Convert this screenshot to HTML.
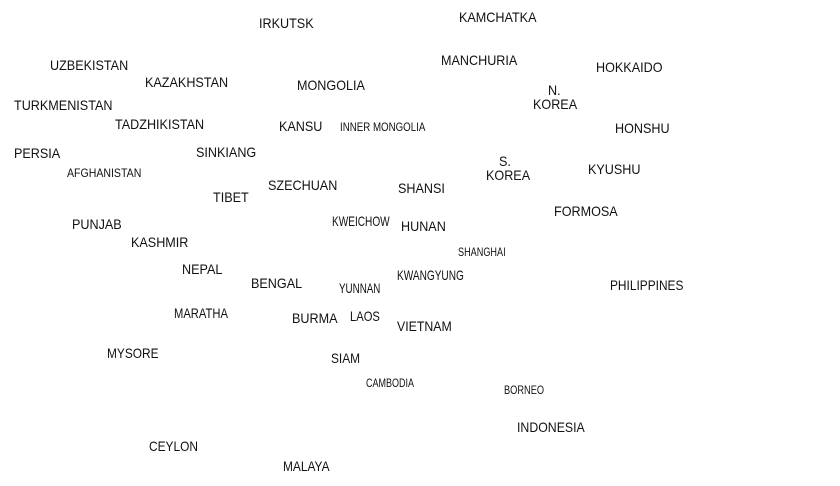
<!DOCTYPE html>
<html><head><meta charset="utf-8"><style>
html,body{margin:0;padding:0;background:#fff;width:840px;height:486px;overflow:hidden}
.t{position:absolute;font-family:"Liberation Sans Narrow","Liberation Sans",sans-serif;font-size:14px;color:#111;white-space:nowrap;line-height:1;transform-origin:0 50%;transform:translateY(-50%) scaleX(0.9)}
.s{font-size:12px}
</style></head><body>
<div class="t" style="left:259px;top:23px">IRKUTSK</div>
<div class="t" style="left:459px;top:17px">KAMCHATKA</div>
<div class="t" style="left:50px;top:65px">UZBEKISTAN</div>
<div class="t" style="left:441px;top:60px">MANCHURIA</div>
<div class="t" style="left:596px;top:67px">HOKKAIDO</div>
<div class="t" style="left:145px;top:82px">KAZAKHSTAN</div>
<div class="t" style="left:297px;top:85px">MONGOLIA</div>
<div class="t" style="left:548px;top:90px">N.</div>
<div class="t" style="left:533px;top:104px">KOREA</div>
<div class="t" style="left:14px;top:105px">TURKMENISTAN</div>
<div class="t" style="left:115px;top:124px">TADZHIKISTAN</div>
<div class="t" style="left:279px;top:126px">KANSU</div>
<div class="t s" style="left:340px;top:127px;transform:translateY(-50%) scaleX(0.81)">INNER MONGOLIA</div>
<div class="t" style="left:615px;top:128px">HONSHU</div>
<div class="t" style="left:14px;top:153px">PERSIA</div>
<div class="t" style="left:196px;top:152px">SINKIANG</div>
<div class="t" style="left:499px;top:161px">S.</div>
<div class="t" style="left:486px;top:175px">KOREA</div>
<div class="t" style="left:588px;top:169px">KYUSHU</div>
<div class="t s" style="left:67px;top:173px;transform:translateY(-50%) scaleX(0.88)">AFGHANISTAN</div>
<div class="t" style="left:268px;top:185px">SZECHUAN</div>
<div class="t" style="left:398px;top:188px">SHANSI</div>
<div class="t" style="left:213px;top:197px">TIBET</div>
<div class="t" style="left:554px;top:211px">FORMOSA</div>
<div class="t" style="left:332px;top:221px;transform:translateY(-50%) scaleX(0.72)">KWEICHOW</div>
<div class="t" style="left:401px;top:226px">HUNAN</div>
<div class="t" style="left:72px;top:224px">PUNJAB</div>
<div class="t" style="left:131px;top:242px">KASHMIR</div>
<div class="t s" style="left:458px;top:252px;transform:translateY(-50%) scaleX(0.76)">SHANGHAI</div>
<div class="t" style="left:182px;top:269px">NEPAL</div>
<div class="t" style="left:397px;top:275px;transform:translateY(-50%) scaleX(0.72)">KWANGYUNG</div>
<div class="t" style="left:251px;top:283px">BENGAL</div>
<div class="t" style="left:339px;top:288px;transform:translateY(-50%) scaleX(0.7)">YUNNAN</div>
<div class="t" style="left:610px;top:285px;transform:translateY(-50%) scaleX(0.85)">PHILIPPINES</div>
<div class="t" style="left:174px;top:313px;transform:translateY(-50%) scaleX(0.8)">MARATHA</div>
<div class="t" style="left:292px;top:318px">BURMA</div>
<div class="t" style="left:350px;top:316px;transform:translateY(-50%) scaleX(0.8)">LAOS</div>
<div class="t" style="left:397px;top:326px;transform:translateY(-50%) scaleX(0.88)">VIETNAM</div>
<div class="t" style="left:107px;top:353px;transform:translateY(-50%) scaleX(0.85)">MYSORE</div>
<div class="t" style="left:331px;top:358px;transform:translateY(-50%) scaleX(0.85)">SIAM</div>
<div class="t s" style="left:366px;top:383px;transform:translateY(-50%) scaleX(0.75)">CAMBODIA</div>
<div class="t s" style="left:504px;top:390px;transform:translateY(-50%) scaleX(0.77)">BORNEO</div>
<div class="t" style="left:517px;top:427px;transform:translateY(-50%) scaleX(0.88)">INDONESIA</div>
<div class="t" style="left:149px;top:446px;transform:translateY(-50%) scaleX(0.85)">CEYLON</div>
<div class="t" style="left:283px;top:466px;transform:translateY(-50%) scaleX(0.85)">MALAYA</div>
</body></html>
